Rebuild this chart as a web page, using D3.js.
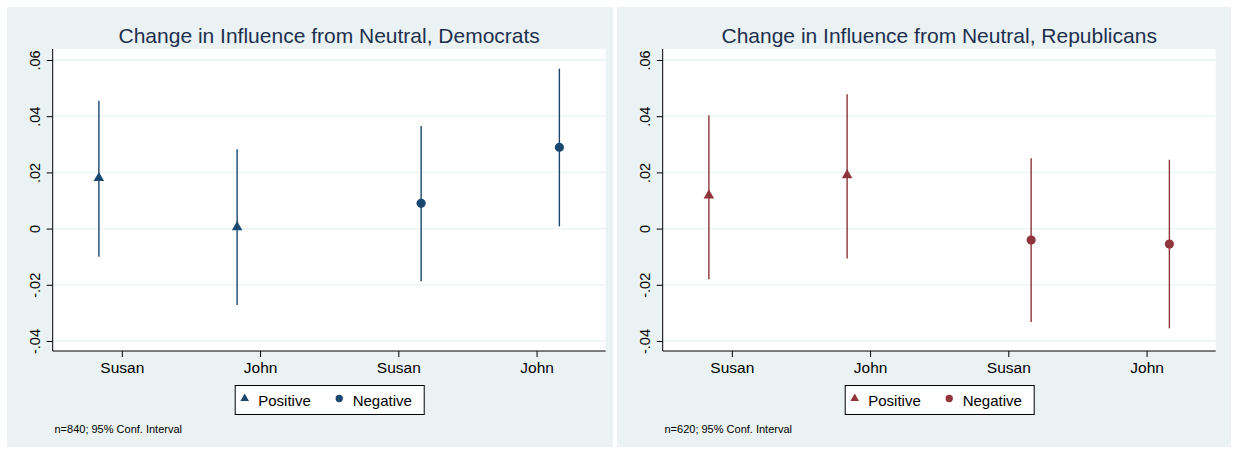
<!DOCTYPE html>
<html>
<head>
<meta charset="utf-8">
<script src="https://cdn.jsdelivr.net/npm/d3@7"></script>
<style>
  html, body { margin: 0; padding: 0; background: #ffffff; }
  svg { display: block; font-family: "Liberation Sans", Arial, Helvetica, sans-serif; }
</style>
</head>
<body>
<svg id="chart" width="1237" height="449"></svg>
<script>
// Category labels along the x axis (same for both panels)
const categories = ["Susan", "John", "Susan", "John"];
// Framing of each estimate (which series it belongs to)
const framing = ["Positive", "Positive", "Negative", "Negative"];
const seriesNames = ["Positive", "Negative"];

// Democrats: point estimates and 95% confidence bounds
const demEstimate = [0.0180, 0.0005, 0.0090, 0.0289];
const demLower    = [-0.0100, -0.0272, -0.0187, 0.0008];
const demUpper    = [0.0455, 0.0282, 0.0365, 0.0569];

// Republicans: point estimates and 95% confidence bounds
const repEstimate = [0.0118, 0.0190, -0.0041, -0.0055];
const repLower    = [-0.0180, -0.0106, -0.0332, -0.0355];
const repUpper    = [0.0403, 0.0478, 0.0250, 0.0245];

// Y axis ticks
const yTicks = [-0.04, -0.02, 0, 0.02, 0.04, 0.06];

const panels = [
  {
    title: "Change in Influence from Neutral, Democrats",
    note: "n=840; 95% Conf. Interval",
    color: "#1a476f",
    est: demEstimate, lo: demLower, hi: demUpper,
    box: { x: 7, y: 7, w: 606, h: 440 },
    plot: { x0: 52.7, x1: 605.7 }
  },
  {
    title: "Change in Influence from Neutral, Republicans",
    note: "n=620; 95% Conf. Interval",
    color: "#90353b",
    est: repEstimate, lo: repLower, hi: repUpper,
    box: { x: 617, y: 7, w: 614, h: 440 },
    plot: { x0: 662.7, x1: 1215.7 }
  }
];

const BG = "#eaf2f3";
const plotTop = 49, plotBottom = 351;
const svg = d3.select("#chart");

// labels like ".06", "0", "-.02" with a plain hyphen
const locale = d3.formatLocale({ decimal: ".", thousands: ",", grouping: [3], currency: ["", ""], minus: "-" });
const fmt2 = locale.format(".2f");
const fmtY = d => d === 0 ? "0" : fmt2(d).replace("0.", ".");

panels.forEach(p => {
  const g = svg.append("g");

  // graph region
  g.append("rect")
    .attr("x", p.box.x).attr("y", p.box.y)
    .attr("width", p.box.w).attr("height", p.box.h)
    .attr("fill", BG);

  // plot region
  g.append("rect")
    .attr("x", p.plot.x0).attr("y", plotTop)
    .attr("width", p.plot.x1 - p.plot.x0).attr("height", plotBottom - plotTop)
    .attr("fill", "#ffffff");

  const x = d3.scalePoint()
    .domain(d3.range(categories.length))
    .range([p.plot.x0, p.plot.x1])
    .padding(0.5);

  const y = d3.scaleLinear()
    .domain([-0.04356, 0.06391])
    .range([plotBottom, plotTop]);

  // horizontal grid lines
  g.append("g").selectAll("line")
    .data(yTicks)
    .join("line")
    .attr("x1", p.plot.x0).attr("x2", p.plot.x1)
    .attr("y1", d => y(d)).attr("y2", d => y(d))
    .attr("stroke", BG).attr("stroke-width", 1.3);

  // y axis
  const yAxis = g.append("g")
    .attr("transform", `translate(${p.plot.x0},0)`)
    .call(d3.axisLeft(y).tickValues(yTicks).tickFormat(fmtY).tickSize(6).tickPadding(0));
  yAxis.select(".domain").attr("d", `M0,${plotTop}V${plotBottom}`).attr("stroke", "#000").attr("stroke-width", 1);
  yAxis.selectAll(".tick line").attr("stroke", "#000").attr("stroke-width", 1);
  yAxis.selectAll(".tick text")
    .attr("x", 0).attr("y", -12.5).attr("dy", 0)
    .attr("transform", "rotate(-90)")
    .attr("text-anchor", "middle")
    .attr("fill", "#000")
    .style("font-size", "14.5px")
    .style("font-family", "Liberation Sans, Arial, sans-serif");

  // x axis
  const xAxis = g.append("g")
    .attr("transform", `translate(0,${plotBottom})`)
    .call(d3.axisBottom(x).tickFormat(i => categories[i]).tickSize(6).tickPadding(0));
  xAxis.select(".domain").attr("d", `M${p.plot.x0},0H${p.plot.x1}`).attr("stroke", "#000").attr("stroke-width", 1);
  xAxis.selectAll(".tick line").attr("stroke", "#000").attr("stroke-width", 1);
  xAxis.selectAll(".tick text")
    .attr("y", 22).attr("dy", 0)
    .attr("fill", "#000")
    .style("font-size", "15.5px")
    .style("font-family", "Liberation Sans, Arial, sans-serif");

  // horizontal shift of each series within its category
  const shift = { Positive: -0.166 * x.step(), Negative: 0.165 * x.step() };
  const rows = categories.map((c, i) => ({
    i, series: framing[i], est: p.est[i], lo: p.lo[i], hi: p.hi[i]
  }));

  // confidence intervals
  g.append("g").selectAll("line")
    .data(rows)
    .join("line")
    .attr("x1", d => x(d.i) + shift[d.series])
    .attr("x2", d => x(d.i) + shift[d.series])
    .attr("y1", d => y(d.lo))
    .attr("y2", d => y(d.hi))
    .attr("stroke", p.color)
    .attr("stroke-width", 1.4);

  // point estimates
  const symbolFor = s => s === "Positive"
    ? d3.symbol(d3.symbolTriangle, 48)()
    : d3.symbol(d3.symbolCircle, 66)();
  g.append("g").selectAll("path")
    .data(rows)
    .join("path")
    .attr("d", d => symbolFor(d.series))
    .attr("transform", d => `translate(${x(d.i) + shift[d.series]},${y(d.est)})`)
    .attr("fill", p.color);

  // title
  g.append("text")
    .attr("x", (p.plot.x0 + p.plot.x1) / 2)
    .attr("y", 42.7)
    .attr("text-anchor", "middle")
    .attr("fill", "#1e3050")
    .style("font-size", "21px")
    .text(p.title);

  // legend
  const cx = (p.plot.x0 + p.plot.x1) / 2;
  const lw = 189, lh = 29, ly = 385;
  const legend = g.append("g").attr("transform", `translate(${cx - lw / 2},${ly})`);
  legend.append("rect")
    .attr("x", 0.5).attr("y", 0.5)
    .attr("width", lw).attr("height", lh)
    .attr("fill", "#ffffff")
    .attr("stroke", "#000").attr("stroke-width", 1);
  const itemX = { Positive: 10, Negative: 104.5 };
  const items = legend.selectAll("g.item")
    .data(seriesNames)
    .join("g")
    .attr("class", "item")
    .attr("transform", d => `translate(${itemX[d]},0)`);
  items.append("path")
    .attr("d", d => d === "Positive"
      ? d3.symbol(d3.symbolTriangle, 32)()
      : d3.symbol(d3.symbolCircle, 42)())
    .attr("transform", "translate(0,13.5)")
    .attr("fill", p.color);
  items.append("text")
    .attr("x", 13.5)
    .attr("y", 21)
    .attr("fill", "#000")
    .style("font-size", "15px")
    .text(d => d);

  // note
  g.append("text")
    .attr("x", p.plot.x0 + 1.8)
    .attr("y", 432.5)
    .attr("fill", "#000")
    .style("font-size", "11px")
    .text(p.note);
});
</script>
</body>
</html>
